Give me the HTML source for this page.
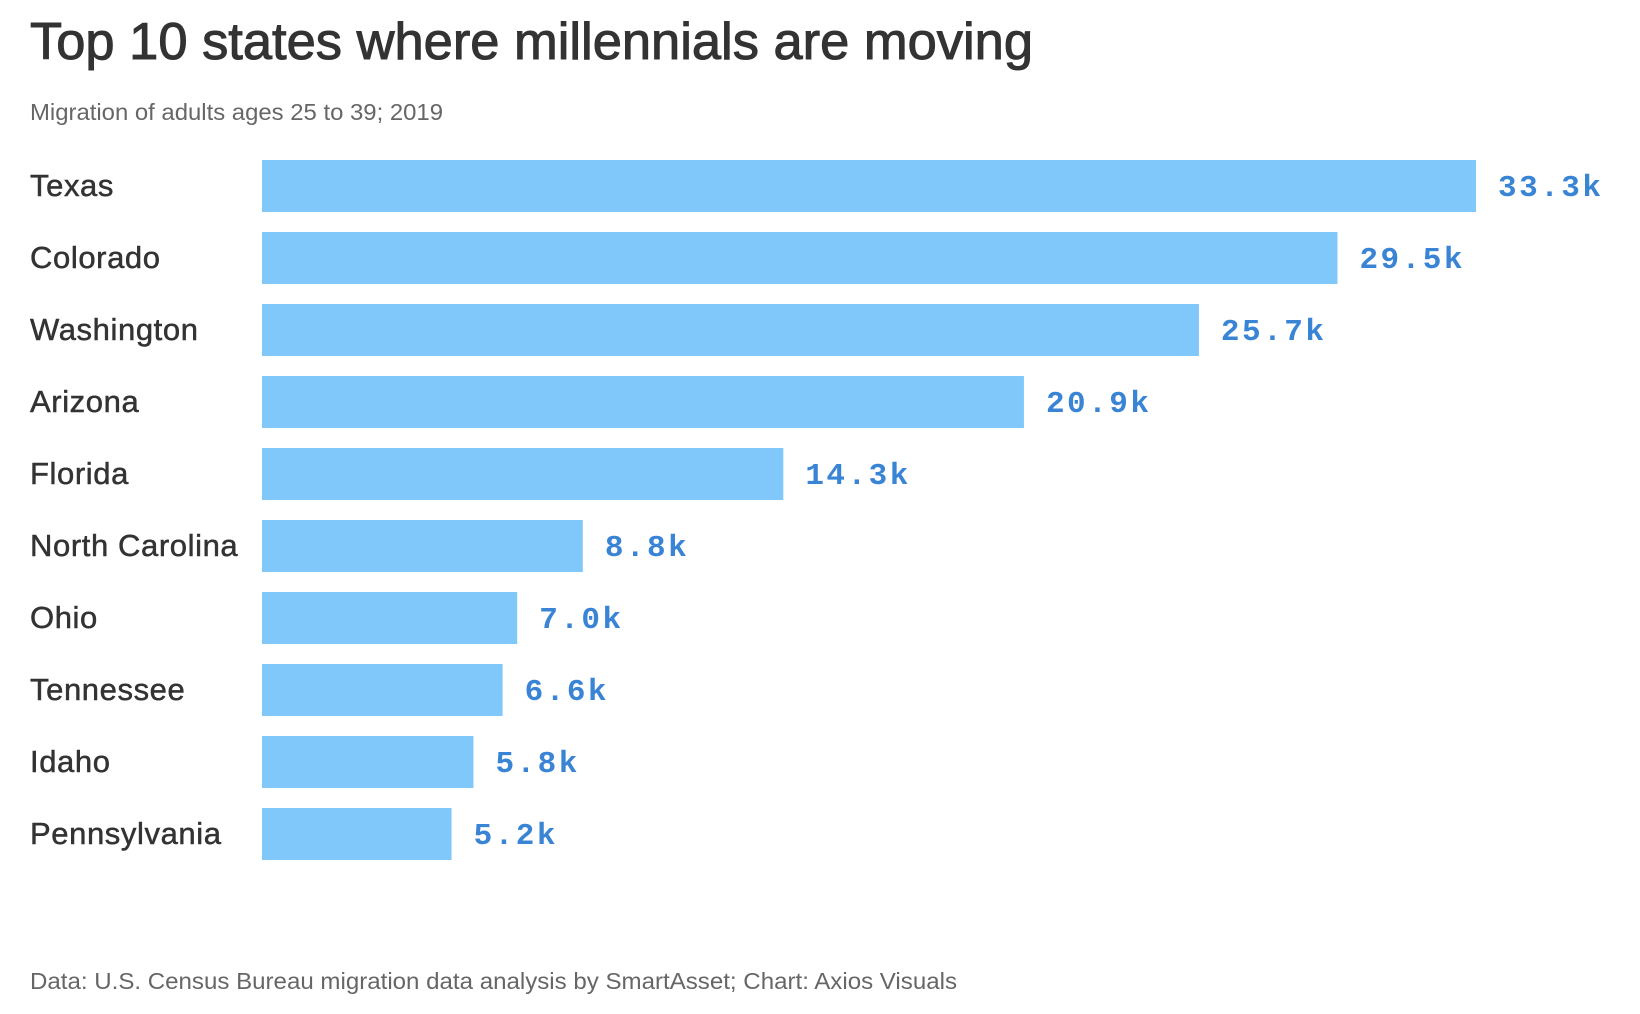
<!DOCTYPE html>
<html><head><meta charset="utf-8"><style>
html,body{margin:0;padding:0;background:#fff;}
svg{display:block;}
</style></head><body>
<svg id="chart" width="1640" height="1014" viewBox="0 0 1640 1014" xmlns="http://www.w3.org/2000/svg">
<text x="30" y="59" font-family="Liberation Sans, sans-serif" font-size="52" fill="#333" stroke="#333" stroke-width="1" textLength="1003" lengthAdjust="spacingAndGlyphs">Top 10 states where millennials are moving</text>
<text x="30" y="120" font-family="Liberation Sans, sans-serif" font-size="23" fill="#666" textLength="413" lengthAdjust="spacingAndGlyphs">Migration of adults ages 25 to 39; 2019</text>
<g id="bars"></g>
<text x="30" y="989" font-family="Liberation Sans, sans-serif" font-size="23" fill="#666" textLength="927" lengthAdjust="spacingAndGlyphs">Data: U.S. Census Bureau migration data analysis by SmartAsset; Chart: Axios Visuals</text>
</svg>
<script>
const categories = ["Texas","Colorado","Washington","Arizona","Florida","North Carolina","Ohio","Tennessee","Idaho","Pennsylvania"];
const values = [33.3,29.5,25.7,20.9,14.3,8.8,7.0,6.6,5.8,5.2];
const valueLabels = ["33.3k","29.5k","25.7k","20.9k","14.3k","8.8k","7.0k","6.6k","5.8k","5.2k"];

const NS = "http://www.w3.org/2000/svg";
const x0 = 262, xMax = 33.3, wMax = 1214;
const xScale = v => x0 + v / xMax * wMax;
const yTop = 160, step = 72, barH = 52;
const yScale = i => yTop + i * step;
const g = document.getElementById("bars");
categories.forEach((c, i) => {
  const y = yScale(i);
  const lab = document.createElementNS(NS, "text");
  
  
  lab.setAttribute("x", 30); lab.setAttribute("y", y + barH/2 + 10);
  lab.setAttribute("font-family", "Liberation Sans, sans-serif");
  lab.setAttribute("font-size", "31"); lab.setAttribute("fill", "#333");
  lab.setAttribute("letter-spacing", "0.6");
  lab.setAttribute("stroke", "#333"); lab.setAttribute("stroke-width", "0.5");
  lab.textContent = c; g.appendChild(lab);
  const r = document.createElementNS(NS, "rect");
  
  
  r.setAttribute("x", x0); r.setAttribute("y", y);
  r.setAttribute("width", xScale(values[i]) - x0); r.setAttribute("height", barH);
  r.setAttribute("fill", "#80c8f9"); g.appendChild(r);
  const t = document.createElementNS(NS, "text");
  
  
  t.setAttribute("x", xScale(values[i]) + 22); t.setAttribute("y", y + barH/2 + 10);
  t.setAttribute("font-family", "Liberation Mono, monospace");
  t.setAttribute("font-size", "31"); t.setAttribute("font-weight", "bold"); t.setAttribute("fill", "#3a84d6");
  t.setAttribute("letter-spacing", "2.5");
  t.textContent = valueLabels[i]; g.appendChild(t);
});
</script>
</body></html>
